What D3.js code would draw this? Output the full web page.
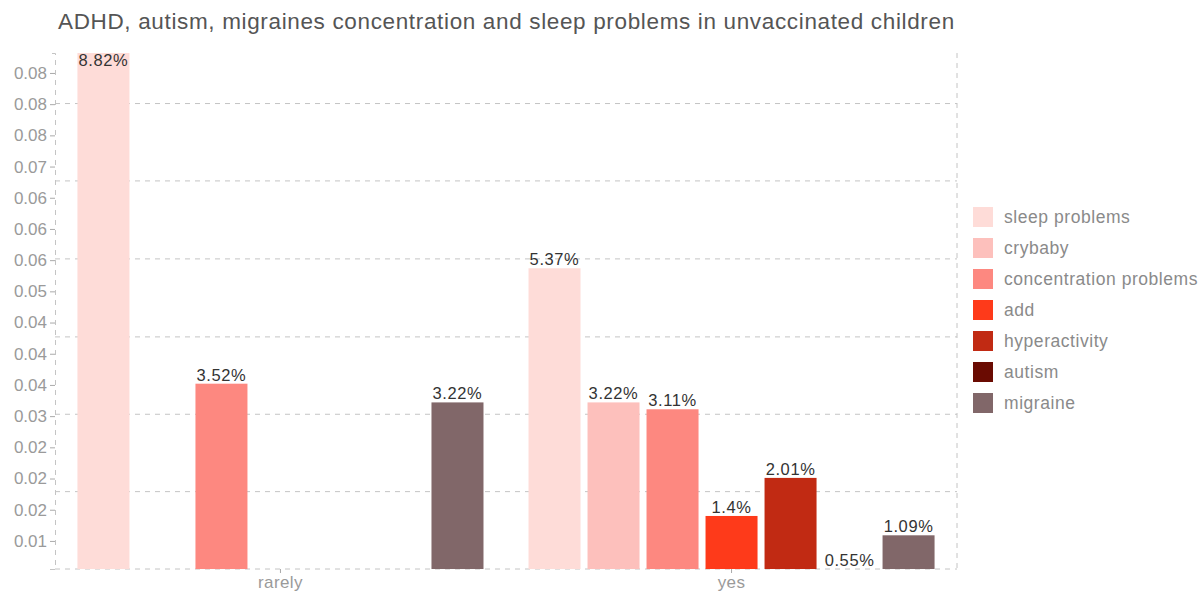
<!DOCTYPE html>
<html><head><meta charset="utf-8">
<script src="https://cdn.jsdelivr.net/npm/d3@7"></script>
<style>body{margin:0;background:#fff}svg{display:block}</style>
</head><body><svg id="c" width="1202" height="591"></svg>
<script>
const title = "ADHD, autism, migraines concentration and sleep problems in unvaccinated children";
const categories = ["rarely", "yes"];
const series = ["sleep problems", "crybaby", "concentration problems", "add", "hyperactivity", "autism", "migraine"];
const colors = ["#fedcd8", "#fdc0bc", "#fd8880", "#fe3a1a", "#c12a13", "#6a0b02", "#816769"];
const rarelyValues = [0.0882, null, 0.0352, null, null, null, 0.0322];
const yesValues = [0.0537, 0.0322, 0.0311, 0.014, 0.0201, 0.0055, 0.0109];
const valueLabels = {rarely: ["8.82%", null, "3.52%", null, null, null, "3.22%"],
                     yes: ["5.37%", "3.22%", "3.11%", "1.4%", "2.01%", "0.55%", "1.09%"]};
const yTickValues = [0.010, 0.015, 0.020, 0.025, 0.030, 0.035, 0.040, 0.045, 0.050, 0.055, 0.060, 0.065, 0.070, 0.075, 0.080, 0.085];
const yTickLabels = ["0.01", "0.02", "0.02", "0.02", "0.03", "0.04", "0.04", "0.04", "0.05", "0.06", "0.06", "0.06", "0.07", "0.08", "0.08", "0.08"];
const gridValues = [0.0179, 0.0303, 0.0427, 0.0552, 0.0677, 0.0801];
const yDomain = [0.0055, 0.0882];

const svg = d3.select("#c");
const m = {left: 55, right: 957, top: 53, bottom: 569};
const font = "'Liberation Sans', Arial, Helvetica, sans-serif";

const x0 = d3.scaleBand().domain(categories).range([m.left, m.right]).paddingInner(0.0843).paddingOuter(0.042);
const x1 = d3.scaleBand().domain(series).range([0, x0.bandwidth()]).paddingInner(7/59).paddingOuter(3.5/59);
const y = d3.scaleLinear().domain(yDomain).range([m.bottom, m.top]);

const data = [];
categories.forEach(c => {
  const vals = c === "rarely" ? rarelyValues : yesValues;
  series.forEach((s, i) => { if (vals[i] != null) data.push({c, s, i, v: vals[i], label: valueLabels[c][i]}); });
});

// title
svg.append("text").attr("x", 58).attr("y", 29).attr("font-family", font).attr("font-size", 22.5)
  .attr("letter-spacing", 0.65).attr("fill", "#555").text(title);

// grid
const dash = "5,5";
svg.append("g").selectAll("line").data(gridValues).join("line")
  .attr("x1", m.left).attr("x2", m.right).attr("y1", d => y(d)).attr("y2", d => y(d))
  .attr("stroke", "#c4c4c4").attr("stroke-dasharray", dash);
// frame lines
svg.append("line").attr("x1", m.left).attr("x2", m.right).attr("y1", m.bottom).attr("y2", m.bottom)
  .attr("stroke", "#c4c4c4").attr("stroke-dasharray", dash);
svg.append("line").attr("x1", m.right).attr("x2", m.right).attr("y1", m.top).attr("y2", m.bottom)
  .attr("stroke", "#c4c4c4").attr("stroke-dasharray", dash);

// bars
svg.append("g").selectAll("rect").data(data).join("rect")
  .attr("x", d => x0(d.c) + x1(d.s)).attr("width", x1.bandwidth())
  .attr("y", d => y(d.v)).attr("height", d => Math.max(0, y(yDomain[0]) - y(d.v)))
  .attr("fill", d => colors[d.i]);

// value labels
svg.append("g").selectAll("text").data(data).join("text")
  .attr("x", d => x0(d.c) + x1(d.s) + x1.bandwidth() / 2)
  .attr("y", d => Math.max(y(d.v) - 3, m.top + 13))
  .attr("text-anchor", "middle").attr("font-family", font).attr("font-size", 16.5)
  .attr("letter-spacing", 0.6).attr("fill", "#333").text(d => d.label);

// y axis
const yAxis = d3.axisLeft(y).tickValues(yTickValues).tickFormat((d, i) => yTickLabels[i]).tickSize(5).tickPadding(3);
const gy = svg.append("g").attr("transform", `translate(${m.left},0)`).call(yAxis);
gy.select(".domain").attr("stroke", "#c4c4c4").attr("stroke-dasharray", dash);
gy.selectAll(".tick line").attr("stroke", "#aaa");
gy.selectAll(".tick text").attr("font-family", font).attr("font-size", 17).attr("fill", "#9a9a9a");

// x axis
const xAxis = d3.axisBottom(x0).tickSize(4).tickPadding(3);
const gx = svg.append("g").attr("transform", `translate(0,${m.bottom})`).call(xAxis);
gx.select(".domain").remove();
gx.selectAll(".tick line").attr("stroke", "#aaa");
gx.selectAll(".tick text").attr("font-family", font).attr("font-size", 17).attr("letter-spacing", 0.4)
  .attr("fill", "#9a9a9a");

// legend
const lg = svg.append("g").attr("transform", "translate(973,207)");
const items = lg.selectAll("g").data(series).join("g").attr("transform", (d, i) => `translate(0,${i * 31})`);
items.append("rect").attr("width", 20).attr("height", 20).attr("fill", (d, i) => colors[i]);
items.append("text").attr("x", 31).attr("y", 16).attr("font-family", font).attr("font-size", 17.5)
  .attr("letter-spacing", 0.55).attr("fill", "#8a8a8a").text(d => d);
</script></body></html>
